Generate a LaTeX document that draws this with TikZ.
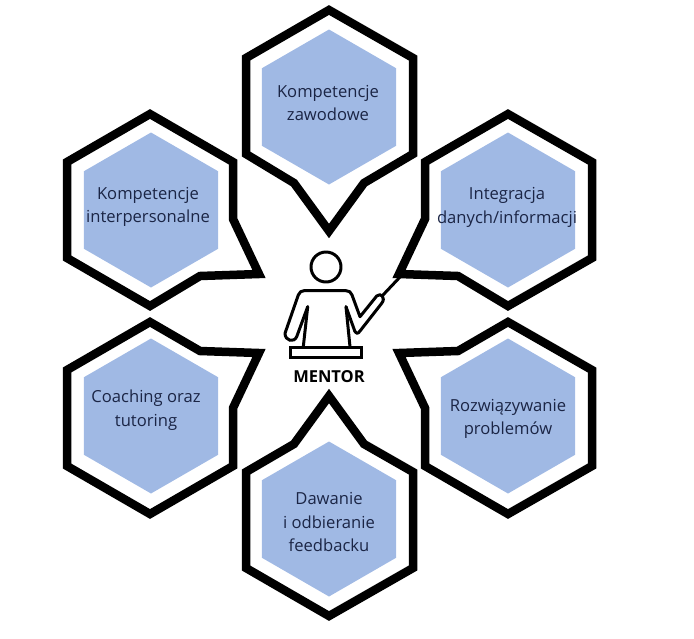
\documentclass[tikz,border=0pt]{standalone}
\usepackage{fontspec}
\usepackage{xcolor}
\usepackage{tikz}
\usetikzlibrary{shapes.geometric}
\setmainfont{Open Sans}
\definecolor{cellblue}{HTML}{A0B9E4}
\definecolor{cellink}{HTML}{1B2545}

\begin{document}
\begin{tikzpicture}[
    x=1pt, y=-1pt,
    cell/.style={regular polygon, regular polygon sides=6, shape border rotate=30, fill=cellblue,
        inner sep=0pt, minimum size=155pt},
    celltext/.style={align=center, text=cellink, inner sep=0pt, font=\fontsize{16.6}{23.5}\selectfont},
    bubble/.style={draw=black, line width=8.5pt, miter limit=10, line join=miter},
    figure/.style={draw=black, line width=3pt, line join=round, line cap=round}
]
    \useasboundingbox (0,0) rectangle (694,638);

    % outer bubbles
    \draw[bubble] (329,10) -- (413,58) -- (413,154) -- (364,183) -- (329,231) -- (294,183) -- (246,154) -- (246,58) -- cycle;
    \draw[bubble] (150,114) -- (233,162) -- (233,219) -- (259,274) -- (200,276) -- (150,306) -- (67,258) -- (67,162) -- cycle;
    \draw[bubble] (508,114) -- (592,162) -- (592,258) -- (508,306) -- (458,276) -- (399,274) -- (425,219) -- (425,162) -- cycle;
    \draw[bubble] (150,322) -- (200,351) -- (259,353) -- (233,408) -- (233,466) -- (150,514) -- (67,466) -- (67,370) -- cycle;
    \draw[bubble] (508,322) -- (458,351) -- (399,353) -- (425,408) -- (425,466) -- (508,514) -- (592,466) -- (592,370) -- cycle;
    \draw[bubble] (329,396) -- (364,444) -- (413,472) -- (413,568) -- (329,616) -- (246,568) -- (246,472) -- (294,444) -- cycle;

    % inner hexagons
    \node[cell] (zawodowe) at (329,107) {};
    \node[cell] (interpersonalne) at (151,210) {};
    \node[cell] (integracja) at (508,210) {};
    \node[cell] (coaching) at (151,416) {};
    \node[cell] (problemy) at (508,416) {};
    \node[cell] (feedback) at (329,519) {};

    \node[celltext] (zawodowetext) at (328,103) {Kompetencje\\zawodowe};
    \node[celltext] (interpersonalnetext) at (148,207) {Kompetencje\\interpersonalne};
    \node[celltext] (integracjatext) at (507,207.5) {Integracja\\danych/informacji};
    \node[celltext] (coachingtext) at (146,410) {Coaching oraz\\tutoring};
    \node[celltext] (problemytext) at (508,419) {Rozwiązywanie\\problemów};
    \node[celltext] (feedbacktext) at (329,522) {Dawanie\\i odbieranie\\feedbacku};

    % mentor figure
    \draw[figure] (326,267) circle (15);
    \draw[figure] (307.7,306.7) -- (296.7,336.7) .. controls (294,343) and (285,341) .. (285,333.3) -- (298.3,295)
        .. controls (300,292) and (301,290.7) .. (304,290.7) -- (346,290.7) .. controls (349,290.7) and (351,292) .. (352,295)
        -- (360,316.7) -- (376.7,296) .. controls (381,292) and (386,298) .. (381.7,303.3)
        -- (360,331) .. controls (358,334) and (356,334) .. (355,331.7);
    \draw[figure] (307.7,306.7) -- (303.3,346.7);
    \draw[figure] (346,306.7) -- (355,331.7);
    \draw[figure] (346,306.7) -- (350,346.7);
    \draw[figure] (383,295) -- (400,277);
    \draw[figure, line join=miter] (290,347.5) rectangle (361,357.5);
    \node[font=\fontsize{16.5}{18}\selectfont\bfseries] (mentor) at (329,377) {MENTOR};
\end{tikzpicture}
\end{document}
